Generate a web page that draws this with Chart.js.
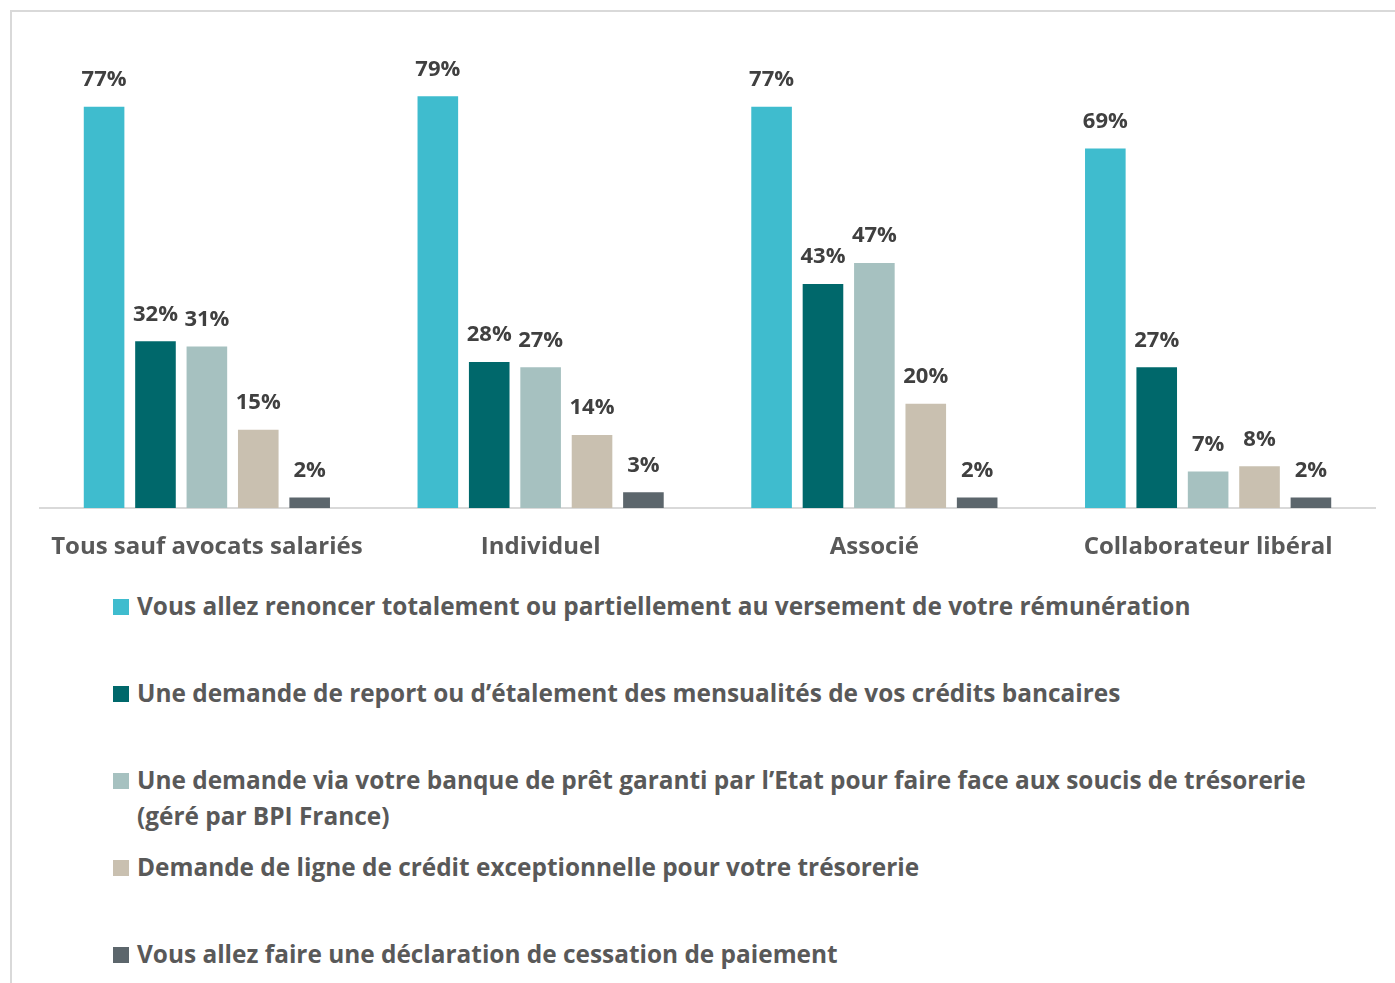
<!DOCTYPE html>
<html><head><meta charset="utf-8">
<script src="https://cdn.jsdelivr.net/npm/chart.js@4"></script>
<style>
html,body{margin:0;padding:0;background:#fff;}
body{width:1395px;height:983px;position:relative;overflow:hidden;font-family:"Open Sans",sans-serif;}
#frame{position:absolute;left:10px;top:10px;width:1400px;height:1000px;border-left:2px solid #D9D9D9;border-top:2px solid #D9D9D9;}
#wrap{position:absolute;left:0;top:0;width:1395px;height:570px;}
.leg{position:absolute;left:113px;width:1210px;font-weight:700;font-size:24.4px;color:#595959;line-height:36px;padding-left:24px;box-sizing:border-box;}
.leg .sw{position:absolute;left:0;top:11px;width:16px;height:16px;}
</style></head><body>
<div id="frame"></div>
<div id="wrap"><canvas id="c" width="1395" height="570"></canvas></div>
<div id="legend"></div>
<script>
const categories = ["Tous sauf avocats salariés","Individuel","Associé","Collaborateur libéral"];
const seriesNames = [
 "Vous allez renoncer totalement ou partiellement au versement de votre rémunération",
 "Une demande de report ou d’étalement des mensualités de vos crédits bancaires",
 "Une demande via votre banque de prêt garanti par l’Etat pour faire face aux soucis de trésorerie (géré par BPI France)",
 "Demande de ligne de crédit exceptionnelle pour votre trésorerie",
 "Vous allez faire une déclaration de cessation de paiement"
];
const renoncer = [77,79,77,69];
const report = [32,28,43,27];
const pretGaranti = [31,27,47,7];
const ligneCredit = [15,14,20,8];
const cessation = [2,3,2,2];
const colors = ["#3FBCCE","#00686B","#A6C1C0","#C9C0B0","#5C666C"];
const values = [renoncer,report,pretGaranti,ligneCredit,cessation];

const labelPlugin = {
  id:'vlabels',
  afterDatasetsDraw(chart){
    const ctx = chart.ctx;
    ctx.save();
    ctx.font = "700 22px 'Open Sans'";
    ctx.fillStyle = "#404040";
    ctx.textAlign = "center";
    ctx.textBaseline = "middle";
    chart.data.datasets.forEach((ds,i)=>{
      chart.getDatasetMeta(i).data.forEach((bar,j)=>{
        ctx.fillText(ds.data[j]+"%", bar.x, bar.y-27);
      });
    });
    ctx.restore();
  }
};

new Chart(document.getElementById('c'),{
  type:'bar',
  data:{labels:categories,datasets:values.map((v,i)=>({label:seriesNames[i],data:v,backgroundColor:colors[i],borderWidth:0,categoryPercentage:0.77,barPercentage:0.79}))},
  options:{
    responsive:false,animation:false,
    layout:{padding:{left:40,right:20,top:39,bottom:0}},
    plugins:{legend:{display:false},tooltip:{enabled:false}},
    scales:{
      x:{grid:{display:false,drawTicks:false},border:{display:true,color:"#D9D9D9",width:2},
         ticks:{padding:25,color:"#595959",font:{family:"'Open Sans'",size:24,weight:"700"}},
         afterFit(s){s.height=62;}},
      y:{display:false,min:0,max:90}
    }
  },
  plugins:[labelPlugin]
});

const legendTops = [588,675,762,849,936];
const leg = document.getElementById('legend');
seriesNames.forEach((n,i)=>{
  const d=document.createElement('div');
  d.className='leg';d.style.top=legendTops[i]+'px';
  d.innerHTML='<span class="sw" style="background:'+colors[i]+'"></span>'+n;
  leg.appendChild(d);
});
</script>
</body></html>
